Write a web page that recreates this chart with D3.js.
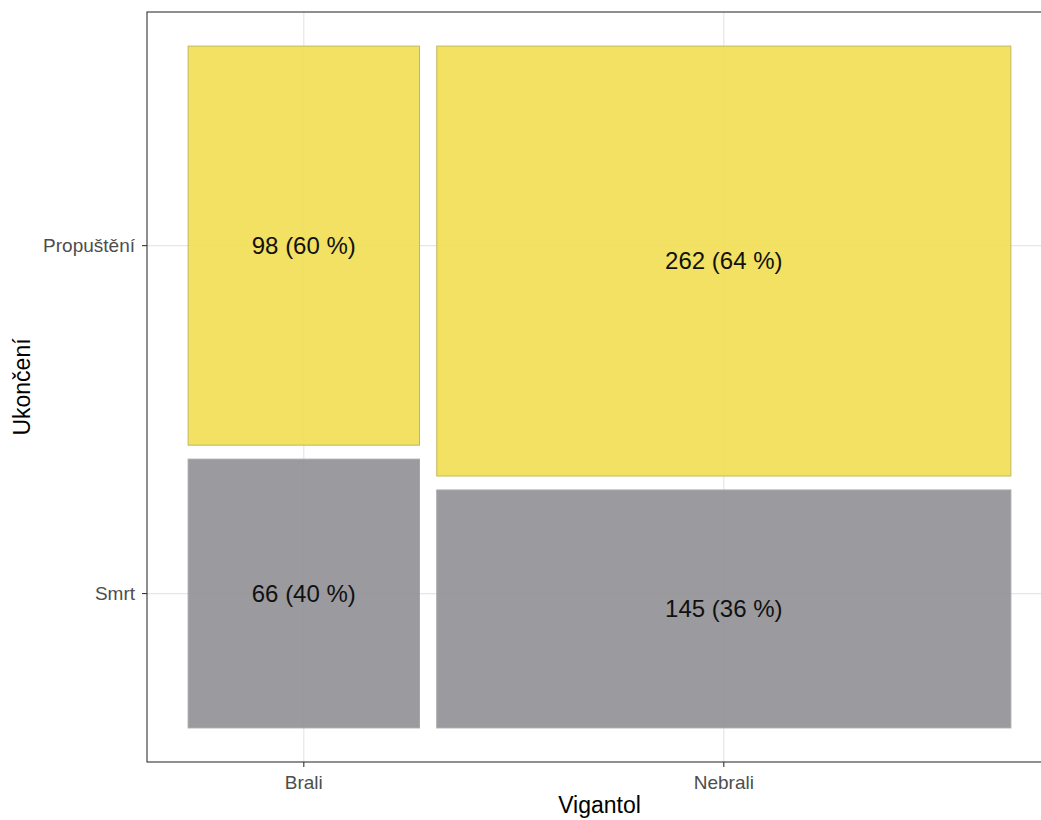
<!DOCTYPE html>
<html>
<head>
<meta charset="utf-8">
<script src="https://cdn.jsdelivr.net/npm/d3@7"></script>
<style>
body { margin: 0; background: #fff; }
text { font-family: "Liberation Sans", Arial, sans-serif; }
</style>
</head>
<body>
<svg id="chart" width="1041" height="820"></svg>
<script>
// Data
const xCategories = ["Brali", "Nebrali"];
const yCategories = ["Smrt", "Propuštění"]; // bottom to top
const countsSmrt = [66, 145];
const countsPropusteni = [98, 262];
const xTitle = "Vigantol";
const yTitle = "Ukončení";
const fillColors = { "Propuštění": "#f1de51", "Smrt": "#908f94" };

const W = 1041, H = 820;
const panel = { left: 147, top: 12, right: 1052, bottom: 762 };
const svg = d3.select("#chart");

// Mosaic geometry in data space [0,1]
const gapX = 0.021, gapY = 0.0205;
const totals = xCategories.map((c, i) => countsSmrt[i] + countsPropusteni[i]);
const grand = d3.sum(totals);
const cells = [];
let xCursor = 0;
const usableX = 1 - gapX * (xCategories.length - 1);
xCategories.forEach((c, i) => {
  const w = usableX * totals[i] / grand;
  const usableY = 1 - gapY;
  const hS = usableY * countsSmrt[i] / totals[i];
  cells.push({ x: c, y: "Smrt", n: countsSmrt[i], p: countsSmrt[i] / totals[i], x0: xCursor, x1: xCursor + w, y0: 0, y1: hS });
  cells.push({ x: c, y: "Propuštění", n: countsPropusteni[i], p: countsPropusteni[i] / totals[i], x0: xCursor, x1: xCursor + w, y0: hS + gapY, y1: 1 });
  xCursor += w + gapX;
});

const xScale = d3.scaleLinear().domain([-0.05, 1.05]).range([panel.left, panel.right]);
const yScale = d3.scaleLinear().domain([-0.05, 1.05]).range([panel.bottom, panel.top]);

const xTicks = xCategories.map(c => {
  const cell = cells.find(d => d.x === c);
  return (cell.x0 + cell.x1) / 2;
});
const yTicks = yCategories.map(yc => {
  const cell = cells.find(d => d.x === xCategories[0] && d.y === yc);
  return (cell.y0 + cell.y1) / 2;
});

// Grid
const g = svg.append("g");
g.selectAll(".gx").data(xTicks).join("line")
  .attr("x1", d => xScale(d)).attr("x2", d => xScale(d))
  .attr("y1", panel.top).attr("y2", panel.bottom)
  .attr("stroke", "#e6e6e6").attr("stroke-width", 1.2);
g.selectAll(".gy").data(yTicks).join("line")
  .attr("y1", d => yScale(d)).attr("y2", d => yScale(d))
  .attr("x1", panel.left).attr("x2", panel.right)
  .attr("stroke", "#e6e6e6").attr("stroke-width", 1.2);

// Rects
g.selectAll(".cell").data(cells).join("rect")
  .attr("x", d => xScale(d.x0))
  .attr("y", d => yScale(d.y1))
  .attr("width", d => xScale(d.x1) - xScale(d.x0))
  .attr("height", d => yScale(d.y0) - yScale(d.y1))
  .attr("fill", d => fillColors[d.y])
  .attr("fill-opacity", 0.9)
  .attr("stroke", d => d.y === "Smrt" ? "#a6a6a8" : "#c4b85e")
  .attr("stroke-width", 1);

// Labels
g.selectAll(".lab").data(cells).join("text")
  .attr("x", d => xScale((d.x0 + d.x1) / 2))
  .attr("y", d => yScale((d.y0 + d.y1) / 2))
  .attr("dy", "0.35em")
  .attr("text-anchor", "middle")
  .attr("font-size", 24)
  .attr("fill", "#111")
  .text(d => `${d.n} (${Math.round(d.p * 100)} %)`);

// Panel border
svg.append("rect")
  .attr("x", panel.left).attr("y", panel.top)
  .attr("width", panel.right - panel.left).attr("height", panel.bottom - panel.top)
  .attr("fill", "none").attr("stroke", "#333333").attr("stroke-width", 1.1);

// X axis
const xAx = svg.append("g");
xAx.selectAll("line").data(xTicks).join("line")
  .attr("x1", d => xScale(d)).attr("x2", d => xScale(d))
  .attr("y1", panel.bottom).attr("y2", panel.bottom + 5)
  .attr("stroke", "#333333").attr("stroke-width", 1.1);
xAx.selectAll("text").data(xTicks).join("text")
  .attr("x", d => xScale(d)).attr("y", panel.bottom + 27)
  .attr("text-anchor", "middle").attr("font-size", 19).attr("fill", "#4d4d4d")
  .text((d, i) => xCategories[i]);

// Y axis
const yAx = svg.append("g");
yAx.selectAll("line").data(yTicks).join("line")
  .attr("x1", panel.left - 5).attr("x2", panel.left)
  .attr("y1", d => yScale(d)).attr("y2", d => yScale(d))
  .attr("stroke", "#333333").attr("stroke-width", 1.1);
yAx.selectAll("text").data(yTicks).join("text")
  .attr("x", panel.left - 12).attr("y", d => yScale(d))
  .attr("dy", "0.35em")
  .attr("text-anchor", "end").attr("font-size", 19).attr("fill", "#4d4d4d")
  .text((d, i) => yCategories[i]);

// Titles
svg.append("text")
  .attr("x", (panel.left + panel.right) / 2).attr("y", 813)
  .attr("text-anchor", "middle").attr("font-size", 23).attr("fill", "#000")
  .text(xTitle);
svg.append("text")
  .attr("transform", `translate(30, ${(panel.top + panel.bottom) / 2}) rotate(-90)`)
  .attr("text-anchor", "middle").attr("font-size", 23).attr("fill", "#000")
  .text(yTitle);
</script>
</body>
</html>
